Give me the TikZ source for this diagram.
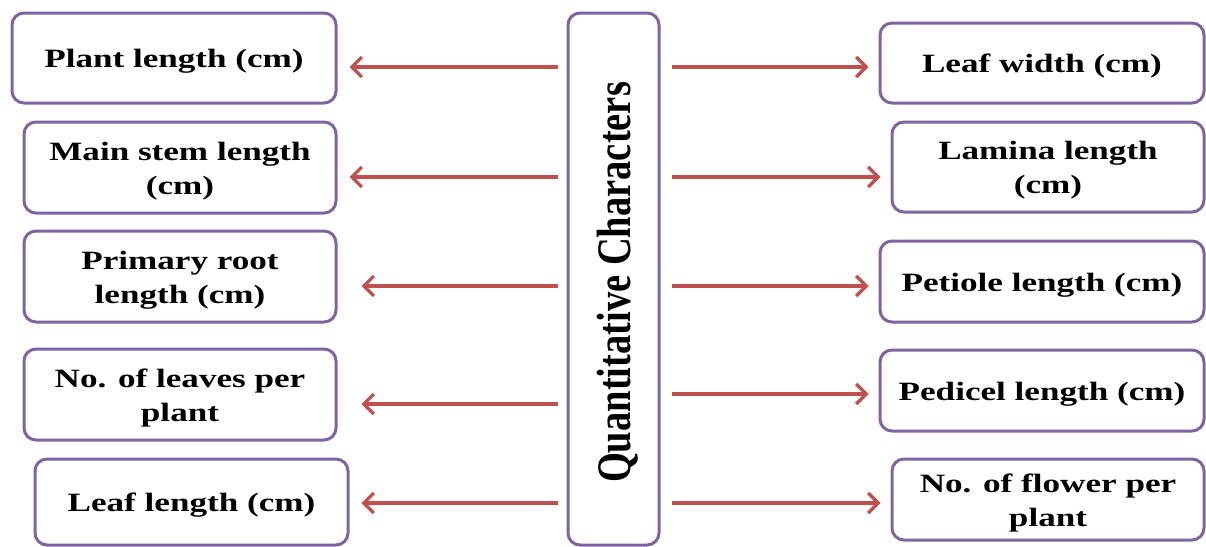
\documentclass[tikz,border=0pt]{standalone}
\usepackage{fontspec}
\usepackage{graphicx}
\usetikzlibrary{arrows.meta}
\newfontfamily\boxfont{Liberation Serif}[FakeStretch=1.33]
\newfontfamily\qfont{Liberation Serif}
\definecolor{boxpurple}{HTML}{8064A2}
\definecolor{arrred}{HTML}{C0504D}
\newcommand\boxtxt[1]{\raisebox{-3pt}[\height][\depth]{\begin{tabular}{@{}c@{}}#1\end{tabular}}}
\tikzset{
  box/.style={draw=boxpurple, line width=3pt, rounded corners=12pt, fill=white,
    inner sep=0pt, font=\boxfont\bfseries\fontsize{26.4}{34}\selectfont},
  arr/.style={draw=arrred, line width=3.3pt, -{Straight Barb[length=10pt,width=20pt]}},
}
\begin{document}
\begin{tikzpicture}[x=1pt,y=-1pt]
\useasboundingbox (0,0) rectangle (1206,546);
% central box
\node[box, minimum width=91pt, minimum height=532pt] (Q) at (613.5,279) {};
\node[rotate=90, anchor=base, inner sep=0pt,
  font=\qfont\bfseries\fontsize{38.5}{40}\selectfont] (Qt) at (630,282.5)
  {\scalebox{1}[1.25]{Quantitative Characters}};
% left boxes
\node[box, minimum width=324pt, minimum height=90pt] (L1) at (174,58) {\boxtxt{Plant length (cm)}};
\node[box, minimum width=312pt, minimum height=91pt] (L2) at (180,167.5) {\boxtxt{Main stem length\\(cm)}};
\node[box, minimum width=312pt, minimum height=91pt] (L3) at (180,276.5) {\boxtxt{Primary root\\length (cm)}};
\node[box, minimum width=312pt, minimum height=91pt] (L4) at (180,394.5) {\boxtxt{No. of leaves per\\plant}};
\node[box, minimum width=313pt, minimum height=86pt] (L5) at (191.5,502) {\boxtxt{Leaf length (cm)}};
% right boxes
\node[box, minimum width=324pt, minimum height=80pt] (R1) at (1042,63) {\boxtxt{Leaf width (cm)}};
\node[box, minimum width=312pt, minimum height=90pt] (R2) at (1048,167) {\boxtxt{Lamina length\\(cm)}};
\node[box, minimum width=324pt, minimum height=81pt] (R3) at (1042,281.5) {\boxtxt{Petiole length (cm)}};
\node[box, minimum width=324pt, minimum height=81pt] (R4) at (1042,390.5) {\boxtxt{Pedicel length (cm)}};
\node[box, minimum width=312pt, minimum height=81pt] (R5) at (1048,499.5) {\boxtxt{No. of flower per\\plant}};
% arrow rows
\coordinate (a1) at (0,67);
\coordinate (a2) at (0,177);
\coordinate (a3) at (0,286);
\coordinate (a4) at (0,404);
\coordinate (a5) at (0,503);
\coordinate (b4) at (0,394);
% left arrows
\draw[arr, shorten <=9pt, shorten >=12pt] (Q.west |- a1) -- (L1.east |- a1);
\draw[arr, shorten <=9pt, shorten >=12pt] (Q.west |- a2) -- (L2.east |- a2);
\draw[arr, shorten <=9pt, shorten >=24pt] (Q.west |- a3) -- (L3.east |- a3);
\draw[arr, shorten <=9pt, shorten >=24pt] (Q.west |- a4) -- (L4.east |- a4);
\draw[arr, shorten <=9pt, shorten >=12pt] (Q.west |- a5) -- (L5.east |- a5);
% right arrows
\draw[arr, shorten <=11pt, shorten >=10pt] (Q.east |- a1) -- (R1.west |- a1);
\draw[arr, shorten <=11pt, shorten >=10pt] (Q.east |- a2) -- (R2.west |- a2);
\draw[arr, shorten <=11pt, shorten >=10pt] (Q.east |- a3) -- (R3.west |- a3);
\draw[arr, shorten <=11pt, shorten >=10pt] (Q.east |- b4) -- (R4.west |- b4);
\draw[arr, shorten <=11pt, shorten >=10pt] (Q.east |- a5) -- (R5.west |- a5);
\end{tikzpicture}
\end{document}
